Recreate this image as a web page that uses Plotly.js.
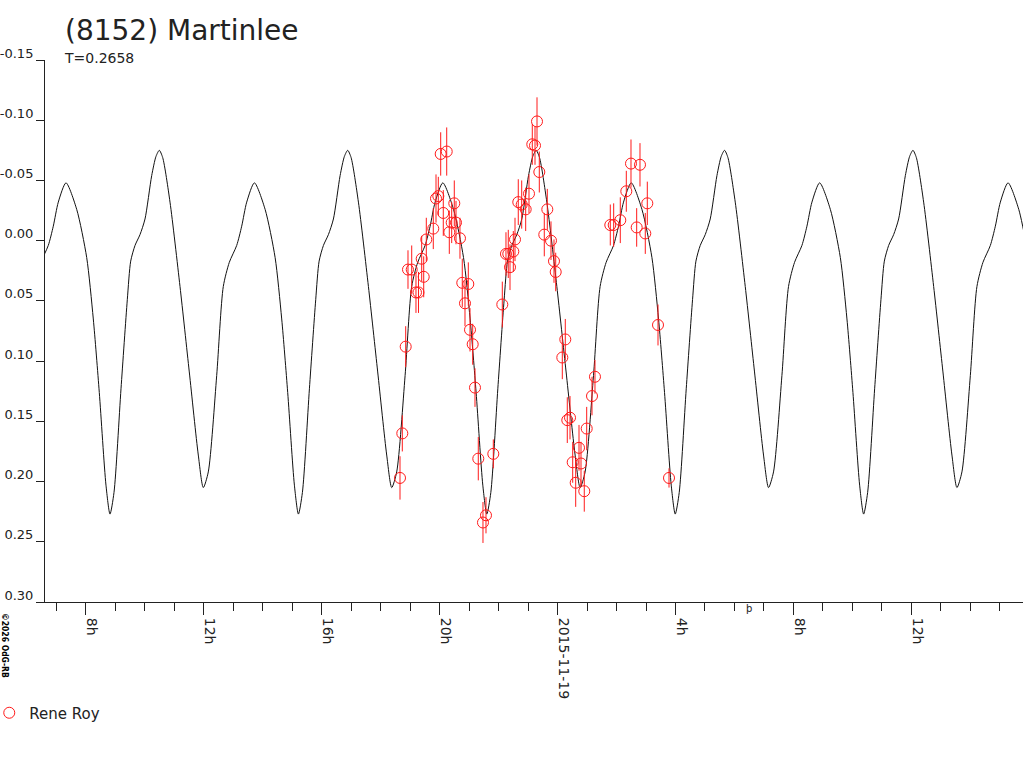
<!DOCTYPE html>
<html>
<head>
<meta charset="utf-8">
<script src="https://cdn.plot.ly/plotly-3.0.1.min.js"></script>
<style>html,body{margin:0;padding:0;background:#fff;}#chart{width:1024px;height:768px;}</style>
</head>
<body>
<div id="chart"></div>
<script>
// Observation times (hours since 2015-11-18 00:00 UT), relative magnitudes, errors (Rene Roy)
var obsHours = [18.658, 18.736, 18.851, 18.929, 19.055, 19.200, 19.285, 19.394, 19.462, 19.550,
  19.787, 19.879, 19.957, 20.038, 20.126, 20.242, 20.330, 20.411, 20.499, 20.557,
  20.692, 20.770, 20.862, 20.974, 21.032, 21.123, 21.201, 21.313, 21.472, 21.574,
  21.822, 22.127, 22.252, 22.330, 22.388, 22.500, 22.558, 22.669, 22.785, 22.920,
  23.032, 23.144, 23.236, 23.304, 23.382, 23.551, 23.653, 23.778, 23.880, 23.938,
  24.162, 24.263, 24.331, 24.423, 24.514, 24.616, 24.728, 24.796, 24.907, 24.989,
  25.169, 25.270, 25.789, 25.904, 26.128, 26.332, 26.491, 26.684, 26.796, 26.976,
  27.044, 27.407, 27.780];
var obsMag = [0.197, 0.160, 0.088, 0.024, 0.024, 0.043, 0.043, 0.015, 0.030, -0.001,
  -0.010, -0.035, -0.037, -0.072, -0.023, -0.074, -0.007, -0.015, -0.031, -0.015,
  -0.002, 0.035, 0.052, 0.036, 0.074, 0.086, 0.122, 0.181, 0.234, 0.228,
  0.177, 0.053, 0.011, 0.011, 0.022, 0.009, -0.001, -0.032, -0.030, -0.026,
  -0.039, -0.080, -0.079, -0.099, -0.057, -0.005, -0.026, 0.000, 0.017, 0.026,
  0.097, 0.082, 0.149, 0.147, 0.184, 0.201, 0.172, 0.185, 0.208, 0.156,
  0.129, 0.113, -0.013, -0.013, -0.017, -0.041, -0.064, -0.011, -0.063, -0.006,
  -0.031, 0.070, 0.197];
var obsErr = [0.018, 0.015, 0.017, 0.016, 0.020, 0.017, 0.017, 0.019, 0.017, 0.018,
  0.017, 0.020, 0.016, 0.018, 0.019, 0.020, 0.018, 0.017, 0.019, 0.018,
  0.017, 0.020, 0.019, 0.018, 0.018, 0.017, 0.016, 0.018, 0.017, 0.015,
  0.012, 0.019, 0.018, 0.020, 0.019, 0.017, 0.018, 0.019, 0.020, 0.018,
  0.016, 0.017, 0.016, 0.020, 0.017, 0.018, 0.017, 0.016, 0.018, 0.016,
  0.018, 0.017, 0.019, 0.018, 0.017, 0.020, 0.019, 0.018, 0.017, 0.018,
  0.016, 0.014, 0.017, 0.018, 0.019, 0.017, 0.020, 0.016, 0.018, 0.017,
  0.018, 0.017, 0.008];

// Fitted light curve
var fitHours = [6.277, 6.481, 6.731, 6.901, 7.071,
  7.332, 7.695, 8.034, 8.258, 8.461, 8.688, 8.824, 8.960, 9.197, 9.411, 9.526, 9.672, 9.841, 10.011, 10.238,
  10.384, 10.496, 10.611, 10.859, 11.198, 11.513, 11.818, 11.988, 12.157, 12.442, 12.666, 12.870, 13.120, 13.290, 13.460,
  13.721, 14.084, 14.423, 14.647, 14.850, 15.077, 15.213, 15.349, 15.586, 15.800, 15.915, 16.061, 16.230, 16.400, 16.627,
  16.773, 16.885, 17.000, 17.248, 17.587, 17.902, 18.207, 18.377, 18.546, 18.831, 19.055, 19.259, 19.509, 19.679, 19.849,
  20.110, 20.473, 20.812, 21.036, 21.239, 21.466, 21.602, 21.738, 21.975, 22.189, 22.304, 22.450, 22.619, 22.789, 23.016,
  23.162, 23.274, 23.389, 23.637, 23.976, 24.291, 24.596, 24.766, 24.935, 25.220, 25.444, 25.648, 25.898, 26.068, 26.238,
  26.499, 26.862, 27.201, 27.425, 27.628, 27.855, 27.991, 28.127, 28.364, 28.578, 28.693, 28.839, 29.008, 29.178, 29.405,
  29.551, 29.663, 29.778, 30.026, 30.365, 30.680, 30.985, 31.155, 31.324, 31.609, 31.833, 32.037, 32.287, 32.457, 32.627,
  32.888, 33.251, 33.590, 33.814, 34.017, 34.244, 34.380, 34.516, 34.753, 34.967, 35.082, 35.228, 35.397, 35.567, 35.794,
  35.940, 36.052, 36.167, 36.415, 36.754, 37.069, 37.374, 37.544, 37.713, 37.998, 38.222, 38.426, 38.676, 38.846, 39.016,
  39.277, 39.640, 39.979];
var fitMag = [0.038, 0.018, 0.004, -0.012, -0.032,
  -0.048, -0.026, 0.014, 0.065, 0.126, 0.203, 0.227, 0.209, 0.123, 0.049, 0.017, 0.004, -0.005, -0.018, -0.054,
  -0.070, -0.075, -0.069, -0.032, 0.038, 0.109, 0.178, 0.205, 0.192, 0.112, 0.038, 0.018, 0.004, -0.012, -0.032,
  -0.048, -0.026, 0.014, 0.065, 0.126, 0.203, 0.227, 0.209, 0.123, 0.049, 0.017, 0.004, -0.005, -0.018, -0.054,
  -0.070, -0.075, -0.069, -0.032, 0.038, 0.109, 0.178, 0.205, 0.192, 0.112, 0.038, 0.018, 0.004, -0.012, -0.032,
  -0.048, -0.026, 0.014, 0.065, 0.126, 0.203, 0.227, 0.209, 0.123, 0.049, 0.017, 0.004, -0.005, -0.018, -0.054,
  -0.070, -0.075, -0.069, -0.032, 0.038, 0.109, 0.178, 0.205, 0.192, 0.112, 0.038, 0.018, 0.004, -0.012, -0.032,
  -0.048, -0.026, 0.014, 0.065, 0.126, 0.203, 0.227, 0.209, 0.123, 0.049, 0.017, 0.004, -0.005, -0.018, -0.054,
  -0.070, -0.075, -0.069, -0.032, 0.038, 0.109, 0.178, 0.205, 0.192, 0.112, 0.038, 0.018, 0.004, -0.012, -0.032,
  -0.048, -0.026, 0.014, 0.065, 0.126, 0.203, 0.227, 0.209, 0.123, 0.049, 0.017, 0.004, -0.005, -0.018, -0.054,
  -0.070, -0.075, -0.069, -0.032, 0.038, 0.109, 0.178, 0.205, 0.192, 0.112, 0.038, 0.018, 0.004, -0.012, -0.032,
  -0.048, -0.026, 0.014];

// Axis ticks
var xTickVals = [8, 12, 16, 20, 24, 28, 32, 36];
var xTickText = ['8h', '12h', '16h', '20h', '2015-11-19', '4h', '8h', '12h'];
var yTickVals = [-0.15, -0.10, -0.05, 0.00, 0.05, 0.10, 0.15, 0.20, 0.25, 0.30];
var yTickText = ['-0.15', '-0.10', '-0.05', '0.00', '0.05', '0.10', '0.15', '0.20', '0.25', '0.30'];

var FONT = 'DejaVu Sans, Liberation Sans, Arial, sans-serif';
var INK = '#222222';

var traces = [
  {
    x: fitHours, y: fitMag, type: 'scatter', mode: 'lines',
    line: {color: '#111111', width: 1, shape: 'spline', smoothing: 0.7},
    showlegend: false, hoverinfo: 'skip'
  },
  {
    x: obsHours, y: obsMag, type: 'scatter', mode: 'markers', name: 'Rene Roy',
    marker: {symbol: 'circle-open', size: 11, color: '#ff1a1a', line: {width: 1, color: '#ff1a1a'}},
    error_y: {type: 'data', array: obsErr, visible: true, color: '#ff1a1a', thickness: 1, width: 0}
  }
];

var layout = {
  width: 1024, height: 768,
  margin: {l: 45, r: 1, t: 60, b: 166, autoexpand: false},
  paper_bgcolor: '#ffffff', plot_bgcolor: '#ffffff',
  font: {family: FONT, color: INK, size: 14},
  title: {text: '(8152) Martinlee', font: {family: FONT, size: 28, color: INK}, automargin: false,
          xref: 'container', x: 65 / 1024, xanchor: 'left', yref: 'container', y: 1 - 30 / 768, yanchor: 'middle'},
  xaxis: {
    range: [6.62, 39.784], showgrid: false, zeroline: false, automargin: false,
    showline: true, linecolor: INK, linewidth: 1,
    ticks: 'outside', tickvals: xTickVals, ticktext: xTickText, ticklen: 12, tickcolor: INK, tickwidth: 1,
    tickangle: 90, tickfont: {family: FONT, size: 14, color: INK}, ticklabelshift: 6,
    minor: {tick0: 0, dtick: 1, ticks: 'outside', ticklen: 8, tickcolor: INK, tickwidth: 1, showgrid: false}
  },
  yaxis: {
    range: [0.30, -0.15], showgrid: false, zeroline: false, automargin: false,
    showline: true, linecolor: INK, linewidth: 1,
    ticks: 'outside', tickvals: yTickVals, ticktext: yTickText, ticklen: 8, tickcolor: INK, tickwidth: 1,
    tickfont: {family: FONT, size: 13, color: INK}, ticklabelshift: 7, ticklabelstandoff: 0
  },
  showlegend: true,
  legend: {orientation: 'h', x: -0.057, xanchor: 'left', y: (602 - 713) / 542, yanchor: 'middle',
           font: {family: FONT, size: 15, color: INK}, bgcolor: 'rgba(0,0,0,0)'},
  annotations: [
    {text: 'T=0.2658', xref: 'paper', yref: 'paper', x: 17 / 977, y: (602 - 58) / 542,
     xanchor: 'left', yanchor: 'middle', showarrow: false, font: {family: FONT, size: 14, color: INK}},
    {text: '©2026 OdG-RB', xref: 'paper', yref: 'paper', x: -40 / 977, y: (602 - 646) / 542,
     xanchor: 'center', yanchor: 'middle', textangle: 90, showarrow: false,
     font: {family: 'DejaVu Sans Condensed, DejaVu Sans, sans-serif', size: 8.5, color: '#000000', weight: 'bold'}},
    {text: 'þ', xref: 'paper', yref: 'paper', x: (748 - 45) / 977, y: (602 - 608) / 542,
     xanchor: 'center', yanchor: 'middle', showarrow: false, font: {family: FONT, size: 10, color: INK}}
  ]
};

Plotly.newPlot('chart', traces, layout, {displayModeBar: false, staticPlot: true});
</script>
</body>
</html>
